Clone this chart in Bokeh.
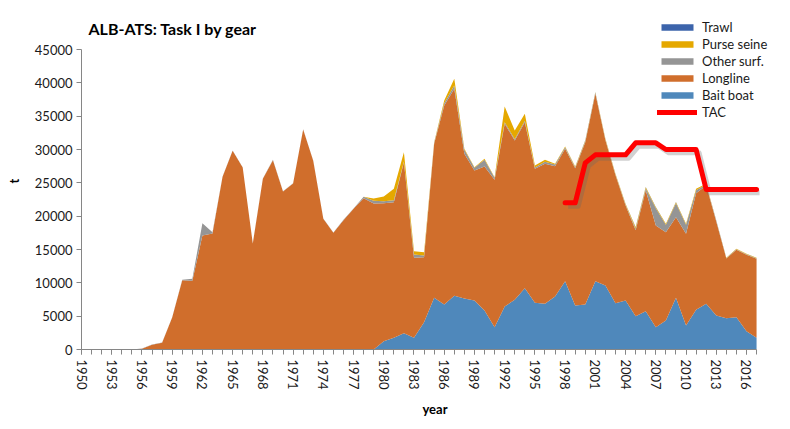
from bokeh.plotting import figure
from bokeh.models import ColumnDataSource, Range1d, FixedTicker, Legend, LegendItem, Label
from bokeh.transform import dodge
from bokeh.embed import file_html
from bokeh.resources import INLINE

years = list(range(1950, 2018))

bait = [0, 0, 0, 0, 0, 0, 0, 0, 0, 0,
        0, 0, 0, 0, 0, 0, 0, 0, 0, 0,
        0, 0, 0, 0, 0, 0, 0, 0, 0, 0,
        1250, 1750, 2450, 1750, 4100, 7750, 6750, 8050, 7650, 7350,
        5850, 3350, 6450, 7450, 9200, 7000, 6850, 7950, 10250, 6600,
        6750, 10250, 9600, 6950, 7350, 5000, 5750, 3350, 4350, 7750,
        3600, 5950, 6850, 5100, 4700, 4850, 2750, 1750]

longline = [0, 0, 0, 0, 0, 0, 100, 700, 1000, 4800,
            10400, 10300, 17100, 17400, 25900, 29800, 27300, 15900, 25600, 28400,
            23700, 24900, 33000, 28300, 19600, 17500, 19400, 21100, 22700, 21900,
            20700, 20350, 25650, 12000, 9750, 23100, 29850, 31050, 21700, 19500,
            21600, 22100, 27400, 23900, 24900, 20100, 21000, 19550, 19850, 20600,
            24350, 28100, 21800, 19200, 14250, 12900, 18150, 15250, 13250, 12100,
            13750, 17500, 17750, 14100, 8950, 10100, 11450, 11850]

other = [0, 0, 0, 0, 0, 0, 50, 50, 50, 50,
         50, 300, 1850, 200, 50, 50, 50, 50, 50, 50,
         50, 50, 50, 50, 50, 50, 50, 50, 200, 400,
         300, 300, 100, 500, 250, 150, 350, 500, 600, 400,
         1000, 300, 250, 200, 200, 200, 300, 250, 250, 150,
         150, 150, 100, 100, 150, 200, 250, 2600, 1100, 2100,
         1350, 450, 150, 100, 50, 100, 100, 100]

purse = [0, 0, 0, 0, 0, 0, 0, 0, 0, 0,
         0, 0, 0, 0, 0, 0, 0, 0, 0, 0,
         0, 0, 0, 0, 0, 0, 0, 0, 0, 350,
         700, 1700, 1400, 500, 500, 100, 400, 1000, 150, 100,
         150, 100, 2350, 1300, 1050, 300, 300, 100, 100, 100,
         100, 100, 100, 100, 100, 250, 200, 150, 150, 150,
         150, 200, 100, 50, 50, 50, 50, 50]

trawl = [0, 0, 0, 0, 0, 0, 0, 0, 0, 0,
         0, 0, 0, 0, 0, 0, 0, 0, 0, 0,
         0, 0, 0, 0, 0, 0, 0, 0, 0, 0,
         0, 0, 0, 0, 0, 0, 0, 0, 0, 0,
         0, 0, 0, 0, 0, 0, 0, 0, 0, 0,
         20, 20, 20, 20, 20, 20, 20, 20, 20, 20,
         20, 20, 20, 20, 20, 20, 20, 20]

tac_years = [1998, 1999, 2000, 2001, 2002, 2003, 2004, 2005, 2006, 2007,
             2008, 2009, 2010, 2011, 2012, 2013, 2014, 2015, 2016, 2017]
tac = [22000, 22000, 28000, 29200, 29200, 29200, 29200, 31000, 31000, 31000,
       30000, 30000, 30000, 30000, 24000, 24000, 24000, 24000, 24000, 24000]

y_ticks = [0, 5000, 10000, 15000, 20000, 25000, 30000, 35000, 40000, 45000]
y_max = 45000

series = ["bait", "longline", "other", "purse", "trawl"]
labels = {"bait": "Bait boat", "longline": "Longline", "other": "Other surf.",
          "purse": "Purse seine", "trawl": "Trawl"}
colors = ["#4F88BB", "#D06E2C", "#959595", "#E5A800", "#3C64AB"]
title_text = "ALB-ATS: Task I by gear"

FONT = "Lato"
TXT = "#1a1a1a"
AX = "#868686"

src = ColumnDataSource(dict(year=years, bait=bait, longline=longline,
                            other=other, purse=purse, trawl=trawl))
tsrc = ColumnDataSource(dict(year=tac_years, tac=tac))

# The frame is larger than the axes (axes limited by bounds) so that the
# legend and title, drawn inside the frame, are not clipped.
p = figure(width=790, height=429, output_backend="svg", toolbar_location=None,
           x_range=Range1d(1950, 2020.17), y_range=Range1d(0, 50550),
           min_border_left=81, min_border_right=2, min_border_top=12,
           min_border_bottom=80)

areas = p.varea_stack(stackers=series, x="year", color=colors, source=src)

shadow = p.line(x=dodge("year", 0.3), y=dodge("tac", -500), source=tsrc,
                line_width=5, color="#666666", line_alpha=0.3, line_join="round")
tac_r = p.line(x="year", y="tac", source=tsrc, line_width=5, color="#FF0000",
               line_join="round", line_cap="round")

order = ["trawl", "purse", "other", "longline", "bait"]
items = [LegendItem(label=labels[s], renderers=[areas[series.index(s)]]) for s in order]
items.append(LegendItem(label="TAC", renderers=[tac_r]))
leg = Legend(items=items, location=(576, 229), glyph_width=40, glyph_height=8,
             label_height=17, spacing=0, padding=0, margin=0, label_standoff=5,
             border_line_color=None, background_fill_alpha=0,
             label_text_font=FONT, label_text_font_size="13px",
             label_text_color=TXT)
p.add_layout(leg)

title = Label(x=7, y=321, x_units="screen", y_units="screen", text=title_text,
              text_font=FONT, text_font_size="16px", text_font_style="bold",
              text_color="#000000", text_align="left", text_baseline="middle")
p.add_layout(title)

p.xaxis.ticker = FixedTicker(ticks=years[::3], minor_ticks=years)
p.xaxis.bounds = (years[0], years[-1])
p.xaxis.major_label_orientation = "vertical"
p.yaxis.ticker = FixedTicker(ticks=y_ticks)
p.yaxis.bounds = (0, y_max)
for ax in (p.xaxis[0], p.yaxis[0]):
    ax.axis_line_color = AX
    ax.major_tick_line_color = AX
    ax.minor_tick_line_color = AX
    ax.major_tick_out = 5
    ax.major_tick_in = 0
    ax.minor_tick_out = 5
    ax.minor_tick_in = 0
    ax.major_label_text_font = FONT
    ax.major_label_text_font_size = "13px"
    ax.major_label_text_color = TXT
    ax.axis_label_text_font = FONT
    ax.axis_label_text_font_size = "13px"
    ax.axis_label_text_font_style = "bold"
    ax.axis_label_text_color = "#000000"
p.xaxis.axis_label = "year"
p.yaxis.axis_label = "t"
p.xaxis.major_label_standoff = 5
p.yaxis.major_label_standoff = 4
p.xaxis.axis_label_standoff = 8
p.yaxis.axis_label_standoff = 10
p.yaxis.minor_tick_line_color = None

p.xgrid.visible = False
p.ygrid.visible = False
p.outline_line_color = None

open("out.html", "w").write(file_html(p, INLINE))
